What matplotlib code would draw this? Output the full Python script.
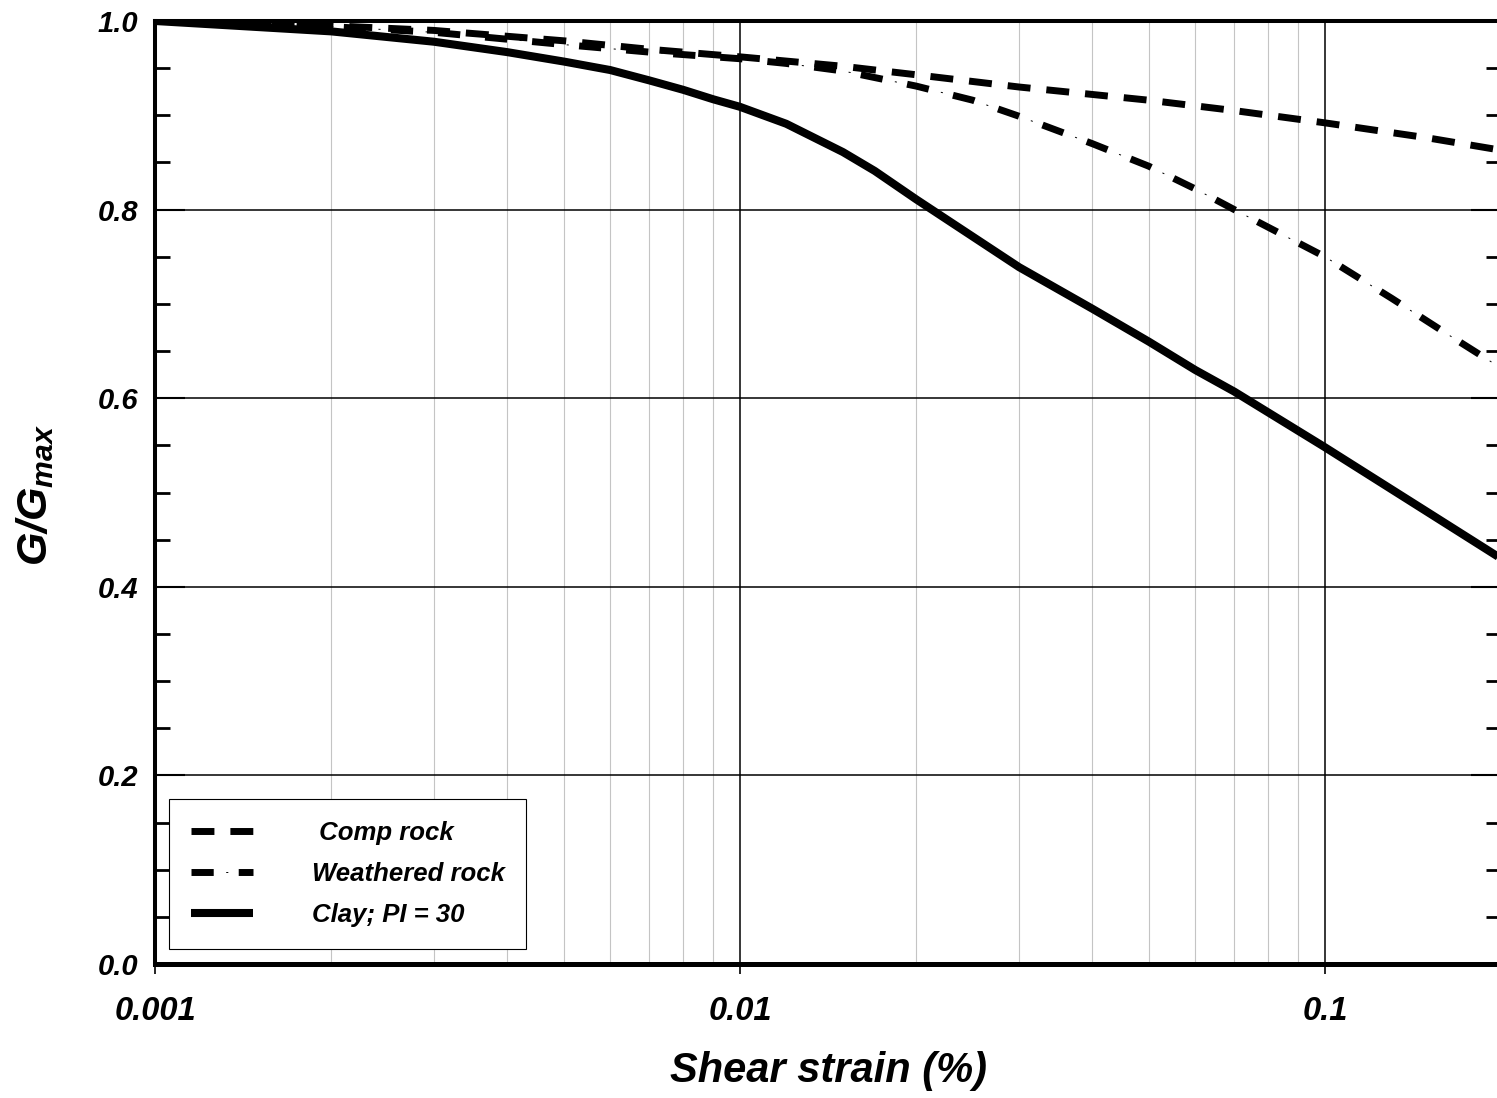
import matplotlib
matplotlib.use("Agg")
import matplotlib.pyplot as plt
from matplotlib.ticker import FixedLocator, MultipleLocator, NullFormatter

plt.rcParams['font.family'] = ['Liberation Sans', 'DejaVu Sans']
plt.rcParams['font.weight'] = 'bold'
plt.rcParams['font.style'] = 'italic'
plt.rcParams['mathtext.fontset'] = 'custom'
plt.rcParams['mathtext.rm'] = 'Liberation Sans:bold:italic'
plt.rcParams['mathtext.it'] = 'Liberation Sans:bold:italic'
plt.rcParams['mathtext.bf'] = 'Liberation Sans:bold:italic'
plt.rcParams['lines.scale_dashes'] = False

# shear strain (%) and modulus reduction G/Gmax for each material
strain_comp = [0.001, 0.002, 0.003, 0.005, 0.007, 0.01, 0.015, 0.02,
               0.03, 0.05, 0.07, 0.1, 0.15, 0.2]
comp_rock = [1.0, 0.995, 0.99, 0.979, 0.97, 0.962, 0.952, 0.943,
             0.93, 0.916, 0.905, 0.892, 0.876, 0.863]

strain_weath = [0.001, 0.002, 0.003, 0.005, 0.007, 0.01, 0.012, 0.015, 0.017,
                0.02, 0.025, 0.03, 0.04, 0.05, 0.06, 0.07, 0.1, 0.13, 0.16, 0.2]
weathered_rock = [1.0, 0.994, 0.988, 0.975, 0.967, 0.96, 0.955, 0.947, 0.940,
                  0.931, 0.916, 0.899, 0.87, 0.846, 0.822, 0.80, 0.75, 0.706,
                  0.67, 0.632]

strain_clay = [0.001, 0.002, 0.003, 0.004, 0.005, 0.006, 0.007, 0.008, 0.009,
               0.01, 0.012, 0.015, 0.017, 0.02, 0.03, 0.04, 0.05, 0.06, 0.07,
               0.1, 0.15, 0.2]
clay_pi30 = [1.0, 0.989, 0.978, 0.967, 0.957, 0.948, 0.937, 0.927, 0.917,
             0.909, 0.891, 0.861, 0.841, 0.811, 0.739, 0.695, 0.66, 0.63, 0.607,
             0.548, 0.479, 0.43]

labels = [' Comp rock', 'Weathered rock', 'Clay; PI = 30']
xticks = [0.001, 0.01, 0.1]
xticklabels = ['0.001', '0.01', '0.1']
yticks = [0.0, 0.2, 0.4, 0.6, 0.8, 1.0]
yticklabels = ['0.0', '0.2', '0.4', '0.6', '0.8', '1.0']

W, H = 1497, 1098
fig = plt.figure(figsize=(W / 100, H / 100), dpi=100)
ax = fig.add_axes([155 / W, 1 - 964 / H, (1501 - 155) / W, (964 - 21) / H])

l1, = ax.plot(strain_comp, comp_rock, color='black', lw=5, ls=(0, (16.5, 11.5)),
              dash_capstyle='butt', zorder=5)
l2, = ax.plot(strain_weath, weathered_rock, color='black', lw=5, ls=(0, (16, 18)),
              dash_capstyle='butt', zorder=5)
# thin dots between the dashes
l2b, = ax.plot(strain_weath, weathered_rock, color='black', lw=0.7,
               ls=(9, (1.5, 32.5)), zorder=5)
l3, = ax.plot(strain_clay, clay_pi30, color='black', lw=5.8,
              solid_capstyle='butt', solid_joinstyle='round', zorder=5)

ax.set_xscale('log')
ax.set_xlim(0.001, 0.2)
ax.set_ylim(0, 1)

ax.xaxis.set_major_locator(FixedLocator(xticks))
ax.set_xticklabels(xticklabels, fontsize=23.5)
ax.xaxis.set_minor_formatter(NullFormatter())
ax.set_yticks(yticks)
ax.set_yticklabels(yticklabels, fontsize=21)
ax.yaxis.set_minor_locator(MultipleLocator(0.05))

ax.tick_params(axis='x', which='major', direction='out', length=7, width=1.2, pad=16)
ax.tick_params(axis='x', which='minor', length=0)
ax.tick_params(axis='y', which='major', direction='in', length=21.6, width=1.5,
               pad=12, left=True, right=True)
ax.tick_params(axis='y', which='minor', direction='in', length=10.8, width=2,
               left=True, right=True)

ax.grid(True, axis='x', which='major', color='black', lw=1.1)
ax.grid(True, axis='x', which='minor', color='#c4c4c4', lw=0.8)
ax.grid(True, axis='y', which='major', color='black', lw=1.1)
ax.set_axisbelow(True)

ax.spines['left'].set_linewidth(2.9)
ax.spines['bottom'].set_linewidth(3.6)
ax.spines['top'].set_linewidth(2.9)
ax.spines['right'].set_linewidth(2.9)

leg = ax.legend([l1, (l2, l2b), l3], labels, loc='lower left',
                bbox_to_anchor=((169 - 155) / 1346, (964 - 949) / 943),
                borderaxespad=0, fontsize=18.5, handlelength=2.4, handletextpad=2.3,
                labelspacing=0.66, borderpad=0.85, fancybox=False, framealpha=1)
leg.get_frame().set_edgecolor('black')
leg.get_frame().set_linewidth(0.8)
leg.set_zorder(10)

fig.text(828 / W, 1 - 1082 / H, 'Shear strain (%)', fontsize=30,
         ha='center', va='baseline')
fig.text(47 / W, 1 - 495 / H, '$G/G_{max}$', fontsize=31, rotation=90,
         rotation_mode='anchor', ha='center', va='baseline')

fig.savefig('out.png', dpi=100)
